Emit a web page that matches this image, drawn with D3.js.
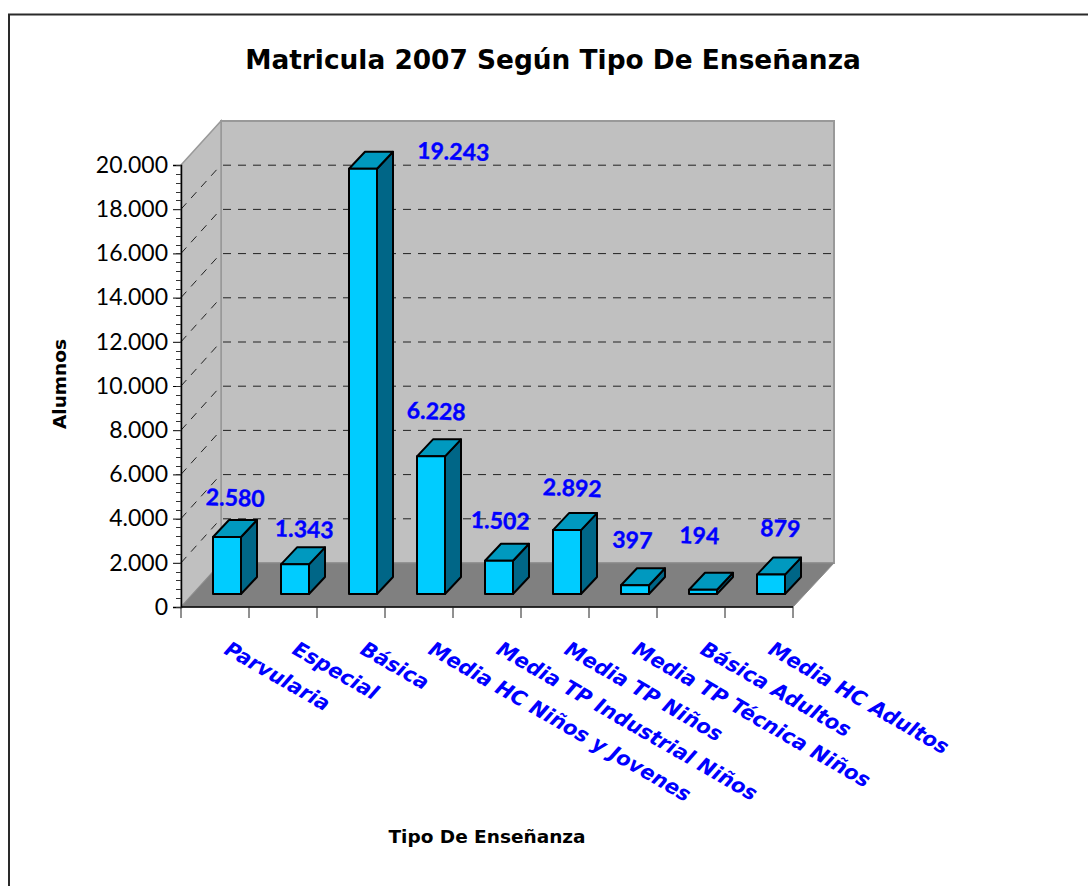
<!DOCTYPE html>
<html>
<head>
<meta charset="utf-8">
<script src="https://cdnjs.cloudflare.com/ajax/libs/d3/7.8.5/d3.min.js"></script>
<style>
body { margin: 0; background: #fff; }
text { font-family: "DejaVu Sans", sans-serif; }
.num text, text.num { font-family: "Lato", sans-serif; }
</style>
</head>
<body>
<svg></svg>
<script>
var categories = ["Parvularia", "Especial", "Básica", "Media HC Niños y Jovenes", "Media TP Industrial Niños",
    "Media TP Niños", "Media TP Técnica Niños", "Básica Adultos", "Media HC Adultos"]
var alumnos = [2580, 1343, 19243, 6228, 1502, 2892, 397, 194, 879]
var valueLabels = ["2.580", "1.343", "19.243", "6.228", "1.502", "2.892", "397", "194", "879"]
var yTicks = [0, 2000, 4000, 6000, 8000, 10000, 12000, 14000, 16000, 18000, 20000]
var yMinorTicks = d3.range(0, 20001, 400)
// hand placed offsets of the value labels, relative to the bar top
var labelDx = [8, 9, 90, 5, 1, 5, -3, -4, 9]
var labelDy = [-31, -27, -9, -37, -32, -34, -37, -46, -38]

var svgWidth = 1088,
    svgHeight = 886

var svg = d3.select("svg")
    .attr("width", svgWidth)
    .attr("height", svgHeight)

// frame runs off the page on the right and bottom
svg.append("path")
    .attr("d", "M9,886V14.5H1088")
    .attr("fill", "none").attr("stroke", "#2a2a2a").attr("stroke-width", 2)

var x = d3.scaleBand().domain(categories).range([181, 793])
var y = d3.scaleLinear().domain([0, 20000]).range([607, 165])

var depthY = -44
var barW = 28, barDx = 16, barDy = -17

// back wall, side wall, floor
svg.append("polygon")
    .attr("points", [[221, y(20000) + depthY], [834, y(20000) + depthY], [834, y(0) + depthY], [221, y(0) + depthY]].join(" "))
    .attr("fill", "#c0c0c0").attr("stroke", "#999").attr("stroke-width", 2)
svg.append("polygon")
    .attr("points", [[181, y(20000)], [221, y(20000) + depthY], [221, y(0) + depthY], [181, y(0)]].join(" "))
    .attr("fill", "#c0c0c0").attr("stroke", "#999").attr("stroke-width", 1.5)
svg.append("polygon")
    .attr("points", [[181, y(0)], [221, y(0) + depthY], [834, y(0) + depthY], [793, y(0)]].join(" "))
    .attr("fill", "#808080").attr("stroke", "#8c8c8c").attr("stroke-width", 1)

// gridlines
var grid = yTicks.filter((d) => d > 0 && d < 20000)
svg.append("g").selectAll("line").data(grid).enter().append("line")
    .attr("x1", 223).attr("x2", 834)
    .attr("y1", (d) => y(d) + depthY).attr("y2", (d) => y(d) + depthY)
    .attr("stroke", "#222").attr("stroke-dasharray", "8,7")
svg.append("g").selectAll("line").data(grid).enter().append("line")
    .attr("x1", 181).attr("x2", 218)
    .attr("y1", (d) => y(d)).attr("y2", (d) => y(d) + depthY + 3)
    .attr("stroke", "#222").attr("stroke-dasharray", "8,7")

// axes
var yAxis = d3.axisLeft(y).tickValues(yTicks).tickSize(8)
    .tickFormat((d) => d3.format(",")(d).replace(",", "."))
var gy = svg.append("g").attr("class", "num").attr("transform", "translate(181,0)").call(yAxis)
gy.selectAll("text").attr("font-size", 23).attr("fill", "#000").attr("dx", -2)
gy.select(".domain").attr("stroke", "#000").attr("stroke-width", 1.5)
gy.selectAll("line").attr("stroke", "#000")

svg.append("g").selectAll("line").data(yMinorTicks).enter().append("line")
    .attr("x1", 176).attr("x2", 181)
    .attr("y1", (d) => Math.round(y(d)) + 0.5).attr("y2", (d) => Math.round(y(d)) + 0.5)
    .attr("stroke", "#333")

svg.append("line").attr("x1", 181).attr("x2", 793).attr("y1", 607).attr("y2", 607).attr("stroke", "#000").attr("stroke-width", 1.5)
svg.append("g").selectAll("line").data(d3.range(10)).enter().append("line")
    .attr("x1", (d) => 181 + d * x.step()).attr("x2", (d) => 181 + d * x.step())
    .attr("y1", 607).attr("y2", 618)
    .attr("stroke", "#222")

// bars, 12px in from the front of the floor
var bars = svg.append("g").selectAll("g").data(alumnos).enter().append("g")
    .attr("transform", (d, i) => "translate(" + (x(categories[i]) + 32) + "," + (594 - (y(0) - y(d))) + ")")

bars.append("polygon")
    .attr("points", (d) => {
        var h = y(0) - y(d)
        return [[barW, 0], [barW + barDx, barDy], [barW + barDx, h + barDy], [barW, h]].join(" ")
    })
    .attr("fill", "#006687")
bars.append("polygon")
    .attr("points", [[0, 0], [barDx, barDy], [barW + barDx, barDy], [barW, 0]].join(" "))
    .attr("fill", "#0099bf")
bars.append("rect")
    .attr("width", barW)
    .attr("height", (d) => y(0) - y(d))
    .attr("fill", "#00ccff")
bars.selectAll("polygon,rect")
    .attr("stroke", "#000").attr("stroke-width", 2).attr("stroke-linejoin", "round")

// value labels
svg.append("g").attr("class", "num").selectAll("text").data(alumnos).enter().append("text")
    .attr("transform", (d, i) => "translate(" + (x(categories[i]) + 46 + labelDx[i]) + "," + (594 - (y(0) - y(d)) + labelDy[i]) + ") rotate(2)")
    .attr("text-anchor", "middle")
    .attr("font-size", 23).attr("font-weight", "bold").attr("fill", "#0000ff")
    .attr("stroke", "#0000ff").attr("stroke-width", 0.4)
    .text((d, i) => valueLabels[i])

// category labels
svg.append("g").selectAll("text").data(categories).enter().append("text")
    .attr("transform", (d) => "translate(" + (x(d) + 42) + ",653) rotate(30)")
    .attr("font-size", 20.5).attr("font-weight", "bold").attr("font-style", "italic").attr("fill", "#0000ff")
    .text((d) => d)

svg.append("text")
    .attr("x", 553).attr("y", 69).attr("text-anchor", "middle")
    .attr("font-size", 26.4).attr("font-weight", "bold").attr("fill", "#000")
    .text("Matricula 2007 Según Tipo De Enseñanza")
svg.append("text")
    .attr("x", 487).attr("y", 843).attr("text-anchor", "middle")
    .attr("font-size", 18.5).attr("font-weight", "bold").attr("fill", "#000")
    .text("Tipo De Enseñanza")
svg.append("text")
    .attr("transform", "translate(66,384) rotate(-90)").attr("text-anchor", "middle")
    .attr("font-size", 18.5).attr("font-weight", "bold").attr("fill", "#000")
    .text("Alumnos")
</script>
</body>
</html>
